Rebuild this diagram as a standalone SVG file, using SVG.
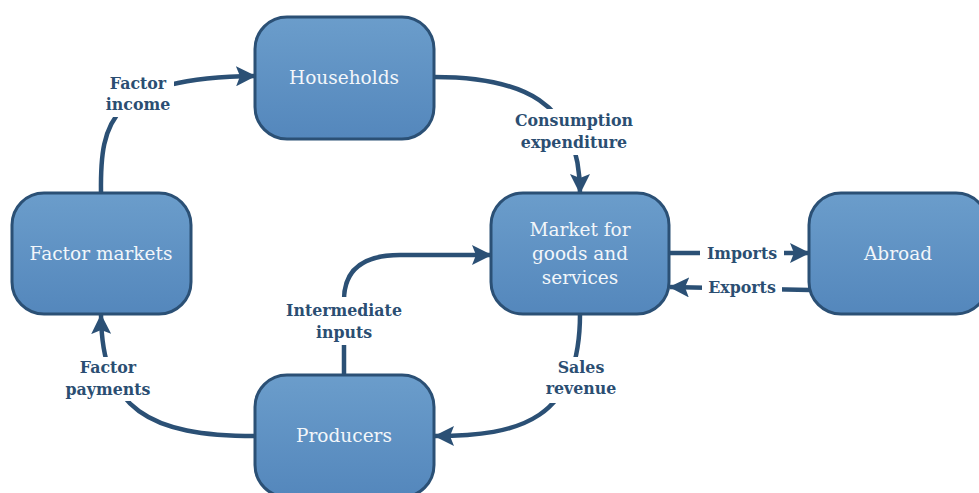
<svg xmlns="http://www.w3.org/2000/svg" width="979" height="493" viewBox="0 0 979 493">
  <defs>
    <linearGradient id="nodeFill" x1="0" y1="0" x2="0" y2="1">
      <stop offset="0" stop-color="#6b9dcb"/>
      <stop offset="1" stop-color="#5487bc"/>
    </linearGradient>
    <marker id="arrow" viewBox="0 0 20 20" refX="19" refY="10" markerWidth="20" markerHeight="20" markerUnits="userSpaceOnUse" orient="auto">
      <path d="M0,0 L20,10 L0,20 L4,10 Z" fill="#2b5075"/>
    </marker>
    <style>
      .node rect { fill: url(#nodeFill); stroke: #2b5075; stroke-width: 3; }
      .node text { font-family: "DejaVu Serif", "Liberation Serif", serif; font-size: 18.5px; fill: #f2f6fa; text-anchor: middle; }
      .conn { fill: none; stroke: #2b5075; stroke-width: 4.5; marker-end: url(#arrow); }
      .lbg { fill: #ffffff; }
      .lbl { font-family: "DejaVu Serif", "Liberation Serif", serif; font-size: 15.8px; font-weight: bold; fill: #2b4e72; text-anchor: middle; }
    </style>
  </defs>
  <rect width="979" height="493" fill="#ffffff"/>

  <g id="connectors">
    <path class="conn" d="M101,193 C100,120 110,78 255,76"/>
    <path class="conn" d="M434,77 C520,77 580,100 580,193"/>
    <path class="conn" d="M669,253 L809,253"/>
    <path class="conn" d="M810,290 L670,287"/>
    <path class="conn" d="M580,314 C580,420 520,436 435,436"/>
    <path class="conn" d="M344,375 L344,300 Q344,255 400,255 L491,255"/>
    <path class="conn" d="M255,436 C150,436 102,410 101,315"/>

    <rect class="lbg" x="102" y="71" width="72" height="46"/>
    <text class="lbl" x="138" y="89">Factor</text>
    <text class="lbl" x="138" y="110">income</text>

    <rect class="lbg" x="508" y="109" width="132" height="46"/>
    <text class="lbl" x="574" y="126">Consumption</text>
    <text class="lbl" x="574" y="148">expenditure</text>

    <rect class="lbg" x="700" y="242" width="84" height="22"/>
    <text class="lbl" x="742" y="259">Imports</text>

    <rect class="lbg" x="702" y="278" width="80" height="21"/>
    <text class="lbl" x="742" y="293">Exports</text>

    <rect class="lbg" x="542" y="357" width="78" height="46"/>
    <text class="lbl" x="581" y="373">Sales</text>
    <text class="lbl" x="581" y="394">revenue</text>

    <rect class="lbg" x="278" y="297" width="132" height="48"/>
    <text class="lbl" x="344" y="316">Intermediate</text>
    <text class="lbl" x="344" y="338">inputs</text>

    <rect class="lbg" x="58" y="357" width="100" height="44"/>
    <text class="lbl" x="108" y="373">Factor</text>
    <text class="lbl" x="108" y="395">payments</text>
  </g>

  <g id="households" class="node">
    <rect x="255" y="17" width="179" height="122" rx="32" ry="32"/>
    <text x="344" y="84">Households</text>
  </g>
  <g id="factor-markets" class="node">
    <rect x="12" y="193" width="179" height="121" rx="32" ry="32"/>
    <text x="101" y="260">Factor markets</text>
  </g>
  <g id="market" class="node">
    <rect x="491" y="193" width="178" height="121" rx="32" ry="32"/>
    <text x="580" y="236">Market for</text>
    <text x="580" y="260">goods and</text>
    <text x="580" y="284">services</text>
  </g>
  <g id="abroad" class="node">
    <rect x="809" y="193" width="179" height="121" rx="32" ry="32"/>
    <text x="898" y="260">Abroad</text>
  </g>
  <g id="producers" class="node">
    <rect x="255" y="375" width="179" height="122" rx="32" ry="32"/>
    <text x="344" y="442">Producers</text>
  </g>
</svg>
